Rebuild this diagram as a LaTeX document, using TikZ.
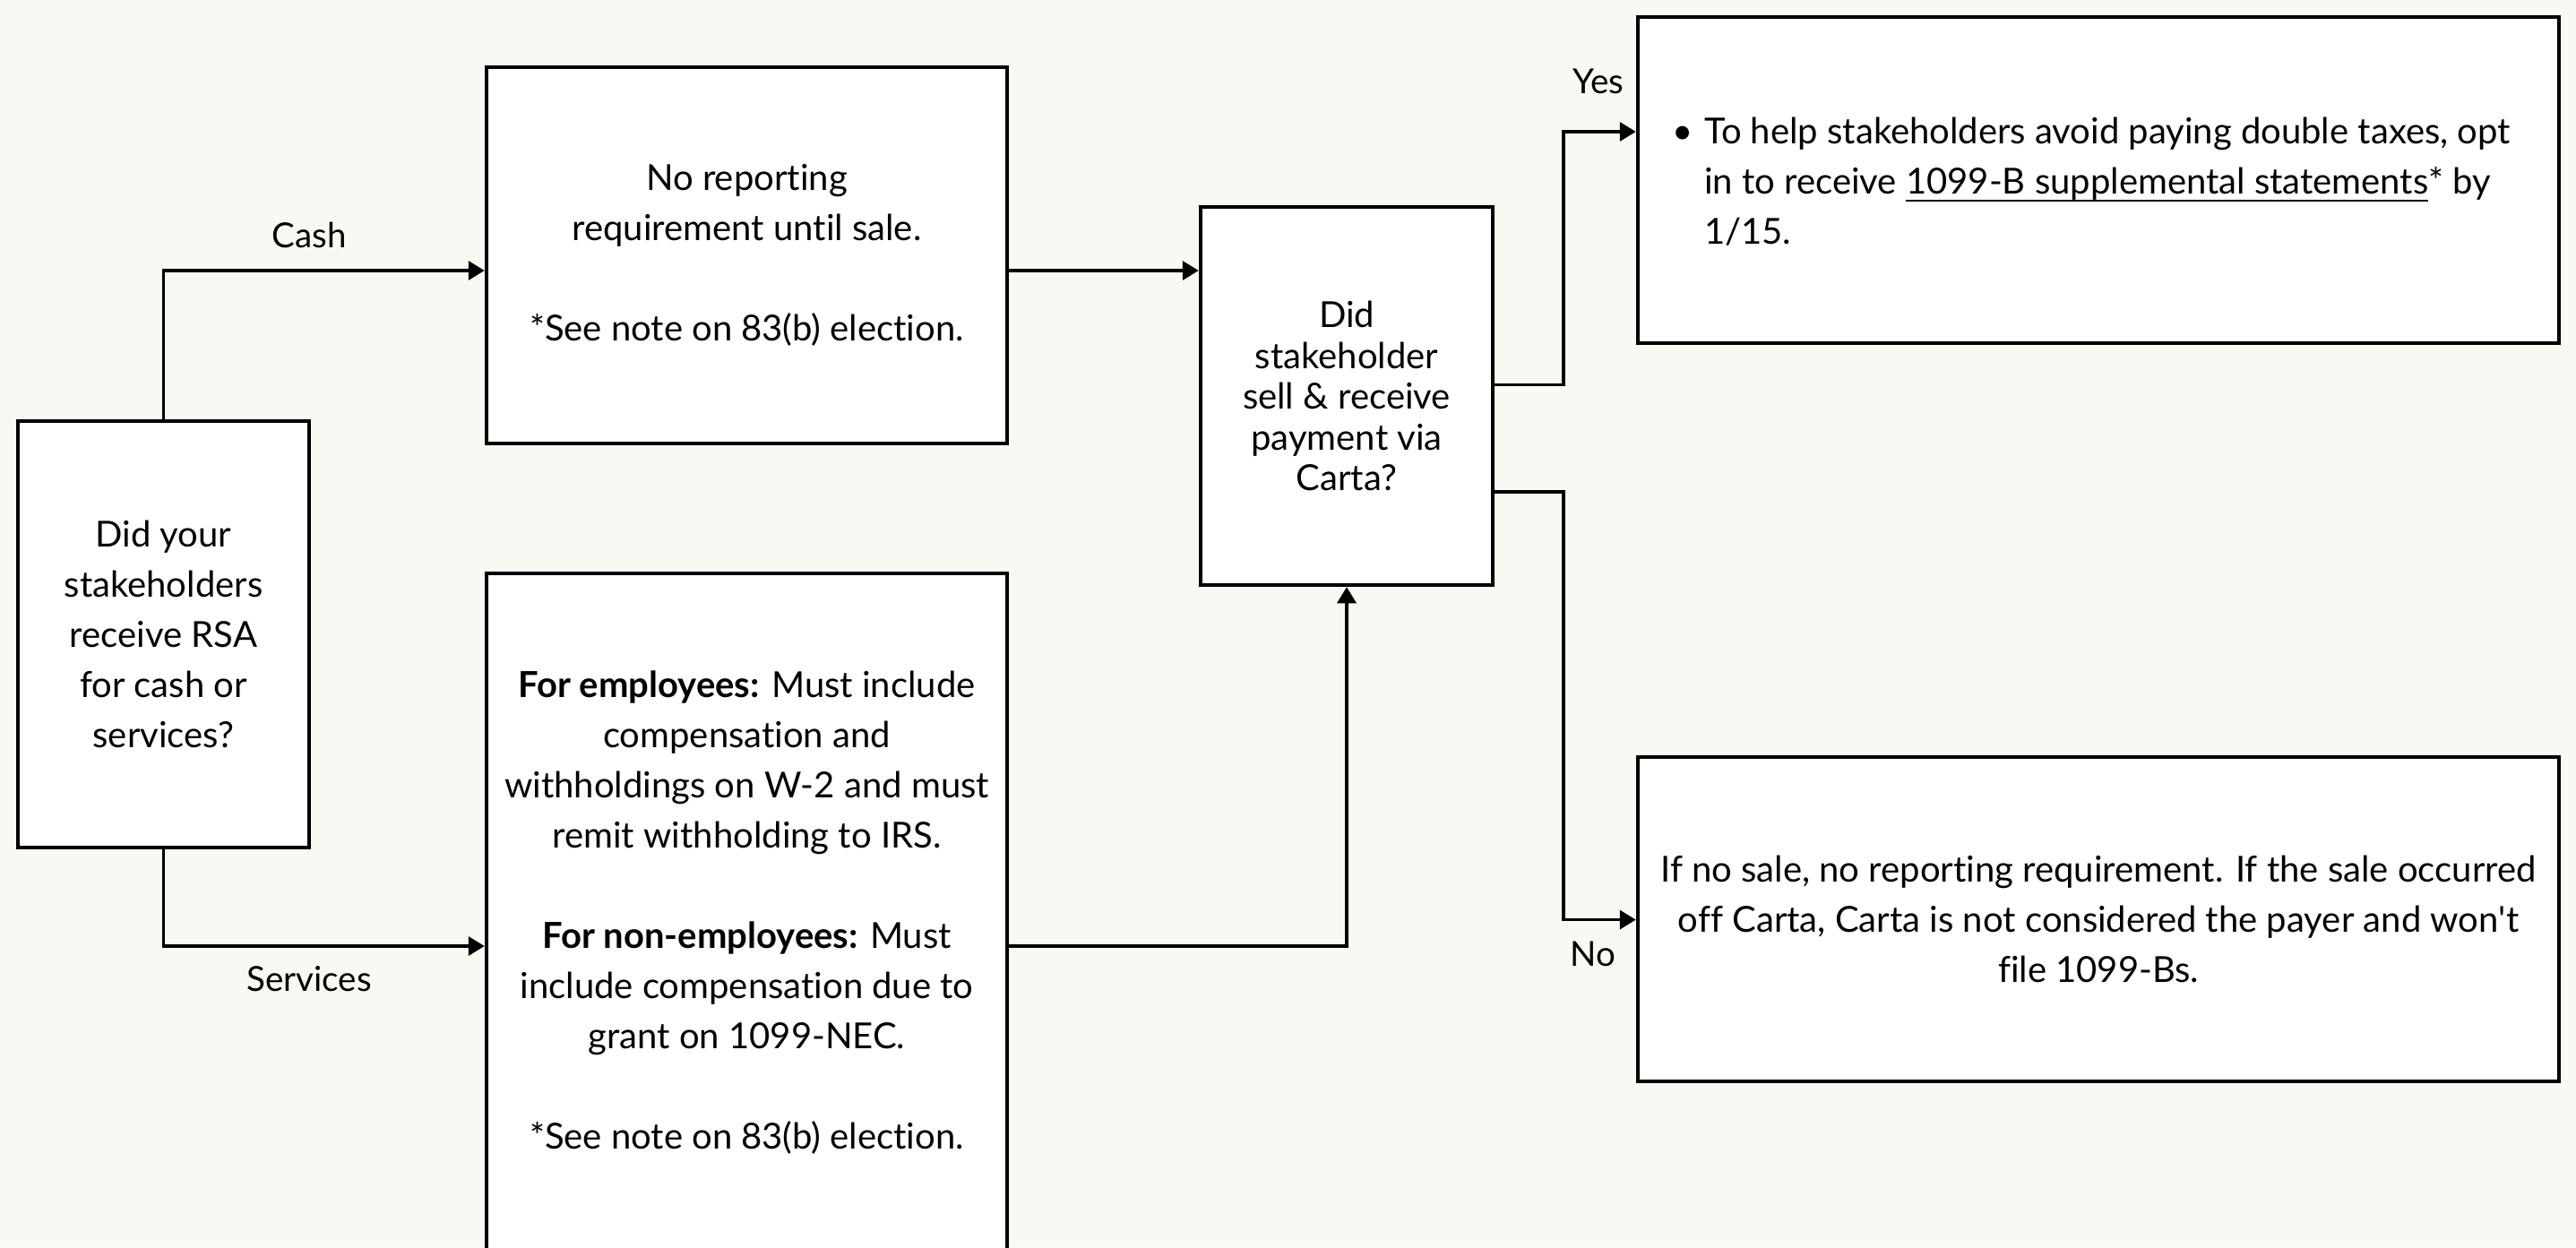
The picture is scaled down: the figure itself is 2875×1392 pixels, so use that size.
\documentclass[tikz,border=0pt]{standalone}
\usepackage{fontspec}
\defaultfontfeatures{}
\setmainfont{Lato}[Ligatures=CommonOff]
\newfontfamily\latoplain{Lato}
\usetikzlibrary{arrows.meta,calc}
\definecolor{bgcream}{RGB}{250,248,243}
\newcommand\ulline[1]{\setbox0\hbox{#1}\rlap{\rule[-8pt]{\wd0}{1.6pt}}\box0}
\begin{document}
\begin{tikzpicture}[x=1pt,y=-1pt,
  box/.style={draw=black, line width=4.5pt, fill=white, inner sep=0pt, align=center,
    font=\fontsize{40}{56}\selectfont},
  arr/.style={line width=3.5pt, -{Triangle[length=18pt,width=21pt]}},
  lbl/.style={font=\fontsize{38.5}{44}\selectfont, inner sep=0pt},
  txt/.style={font=\fontsize{40}{56}\selectfont, inner sep=0pt}]
\fill[bgcream] (0,0) rectangle (2875,1392);
\useasboundingbox (0,0) rectangle (2875,1392);
\clip (0,0) rectangle (2875,1392);

\node[box, minimum width=325pt, minimum height=476pt] (A) at (182.5,708)
  {Did your\\stakeholders\\receive RSA\\for cash or\\services?};
\node[box, minimum width=581pt, minimum height=420pt] (B) at (833.5,285)
  {No reporting\\requirement until sale.\\[56pt]*See note on 83(b) election.};
\node[box, minimum width=581pt, minimum height=757pt] (C) at (833.5,1018.5)
  {\textbf{For employees:} Must include\\compensation and\\withholdings on W-2 and must\\remit withholding to IRS.\\[56pt]\textbf{For non-employees:} Must\\include compensation due to\\grant on 1099-NEC.\\[56pt]*See note on 83(b) election.};
\node[box, minimum width=326pt, minimum height=422pt, font=\fontsize{40}{45.5}\selectfont] (D) at (1503,442)
  {Did\\stakeholder\\sell \& receive\\payment via\\Carta?};
\node[box, minimum width=1028pt, minimum height=364pt] (E) at (2342,201) {};
\node[txt, anchor=west, align=left] (Etext) at (1866,203)
  {\makebox[36pt][l]{\textbullet}To help stakeholders avoid paying double taxes, opt\\
   \hspace*{36pt}in to receive \ulline{1099-B supplemental statements}* by\\
   \hspace*{36pt}1/15.};
\node[box, minimum width=1028pt, minimum height=362pt] (F) at (2342,1026)
  {If no sale, no reporting requirement. If the sale occurred\\off Carta, Carta is not considered the payer and won{\latoplain'}t\\file 1099-Bs.};

\node[lbl] (cashlbl) at (345,262) {Cash};
\node[lbl] (servlbl) at (345,1093) {Services};
\node[lbl] (yeslbl) at (1784,91) {Yes};
\node[lbl] (nolbl) at (1778,1065) {No};

\coordinate (cashy) at (0,302);
\coordinate (servy) at (0,1056);
\coordinate (yesy) at (0,429.5);
\coordinate (noy) at (0,549);
\coordinate (splitx) at (1745,0);
\coordinate (yesin) at (0,147);
\coordinate (noin) at (0,1026.6);

\draw[arr] (A.north) |- (B.west |- cashy);
\draw[arr] (A.south) |- (C.west |- servy);
\draw[arr] (B.east |- cashy) -- (D.west |- cashy);
\draw[arr] (C.east |- servy) -| (D.south);
\draw[arr] (D.east |- yesy) -| (splitx |- yesin) -- (E.west |- yesin);
\draw[arr] (D.east |- noy) -| (splitx |- noin) -- (F.west |- noin);
\end{tikzpicture}
\end{document}
